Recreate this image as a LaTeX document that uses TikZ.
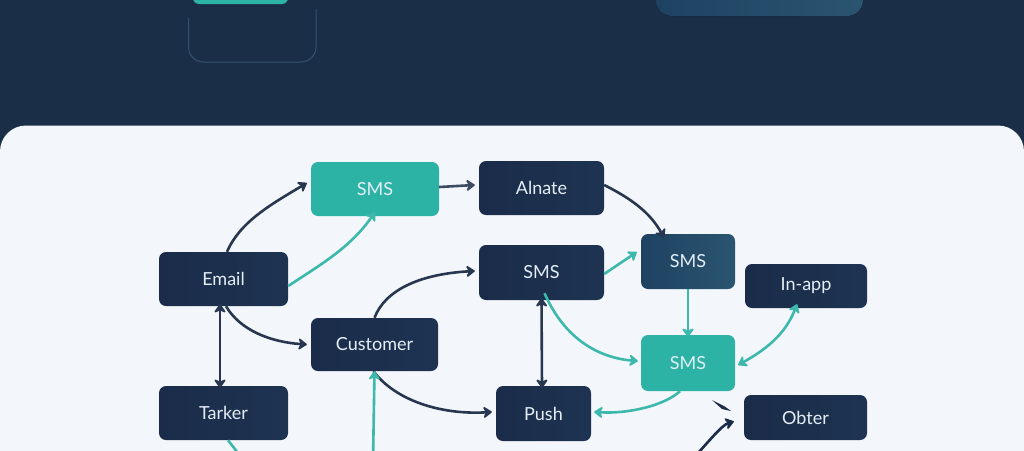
\documentclass[tikz,border=0pt]{standalone}
\usepackage{fontspec}
\setmainfont{Lato}
\usetikzlibrary{arrows.meta,shadings}
\definecolor{bgnavy}{HTML}{1B2E47}
\definecolor{panel}{HTML}{F3F6FA}
\definecolor{boxnavy}{HTML}{1A2C49}
\definecolor{boxnavyb}{HTML}{1E3352}
\definecolor{tealc}{HTML}{2DB3A6}
\definecolor{tealline}{HTML}{3DB8AC}
\definecolor{darkline}{HTML}{26374F}
\definecolor{midblueA}{HTML}{1F4262}
\definecolor{midblueB}{HTML}{2A5570}
\definecolor{labelc}{HTML}{E4EEF6}
\definecolor{ghost}{HTML}{325470}
\tikzset{
  x=1pt,y=-1pt,
  card/.style={rounded corners=7pt,text=labelc,font=\fontsize{18}{20}\selectfont,inner sep=0pt,anchor=center},
  navybox/.style={card,left color=boxnavy,right color=boxnavyb},
  tealbox/.style={card,fill=tealc},
  bluebox/.style={card,left color=midblueA,right color=midblueB},
  tip/.style={-{Stealth[inset=3.2pt,length=10pt,width=14pt,round]}},
  dbl/.style={{Stealth[inset=3.2pt,length=10pt,width=14pt,round]}-{Stealth[inset=3.2pt,length=10pt,width=14pt,round]}},
  flow/.style={line width=2.6pt,draw=darkline},
  tflow/.style={line width=2.6pt,draw=tealline},
}
\begin{document}
\begin{tikzpicture}
\useasboundingbox (0,0) rectangle (1024,450);
\fill[bgnavy] (0,0) rectangle (1024,450);
% cropped shapes at the top
\fill[tealc,rounded corners=6pt] (193,-12) rectangle (288,4);
\fill[left color=midblueA,right color=midblueB,rounded corners=16pt] (656,-30) rectangle (863,16);
\draw[ghost,line width=1pt,rounded corners=15pt] (188.5,18) -- (188.5,62) -- (316,62) -- (316,9);
% panel
\begin{scope}
\clip (0,0) rectangle (1024,450);
\fill[panel,rounded corners=26pt] (0,125.5) rectangle (1024,490);
\end{scope}
% nodes
\node[tealbox,minimum width=128pt,minimum height=54pt] (smsa) at (375,189) {SMS};
\node[navybox,minimum width=125pt,minimum height=54pt] (alnate) at (541.5,188) {Alnate};
\node[navybox,minimum width=129pt,minimum height=54pt] (email) at (223.5,279) {Email};
\node[navybox,minimum width=125pt,minimum height=55pt] (smsb) at (541.5,272.5) {SMS};
\node[bluebox,minimum width=94pt,minimum height=55pt] (smsc) at (688,261.5) {SMS};
\node[navybox,minimum width=122pt,minimum height=44pt] (inapp) at (806,286) {In-app};
\node[navybox,minimum width=127pt,minimum height=53pt] (customer) at (374.5,344.5) {Customer};
\node[tealbox,minimum width=94pt,minimum height=56pt] (smsd) at (688,363) {SMS};
\node[navybox,minimum width=129pt,minimum height=54pt] (tarker) at (223.5,413) {Tarker};
\node[navybox,minimum width=95pt,minimum height=55pt] (push) at (543.5,413.5) {Push};
\node[navybox,minimum width=123pt,minimum height=45pt] (obter) at (805.5,417.5) {Obter};
\coordinate (offa) at (373,462);
\coordinate (offb) at (245,462);
\coordinate (offc) at (690,462);
% connectors
\draw[flow,tip] ([xshift=3.5pt]email.north) .. controls (240,222) and (270,205) .. ([xshift=-4pt,yshift=6pt]smsa.west);
\draw[tflow,tip] ([yshift=-7pt]email.east) .. controls (320,265) and (350,248) .. ([yshift=4pt]smsa.south);
\draw[flow,tip,draw=darkline!90!white] ([yshift=2pt]smsa.east) -- ([xshift=-4pt,yshift=3pt]alnate.west);
\draw[flow,tip] ([yshift=3pt]alnate.east) .. controls (630,198) and (650,212) .. ([xshift=-24pt,yshift=-4pt]smsc.north);
\draw[flow,tip] ([xshift=2.5pt]email.south) .. controls (240,330) and (270,342) .. ([xshift=-4pt]customer.west);
\draw[flow,dbl] ([xshift=-3.5pt,yshift=2pt]email.south) -- ([xshift=-3.5pt,yshift=-2pt]tarker.north);
\draw[flow,tip] (customer.north) .. controls (385,290) and (420,274) .. ([xshift=-4pt,yshift=1.5pt]smsb.west);
\draw[tflow,tip] ([yshift=-1.5pt]smsb.east) -- ([xshift=-4pt,yshift=9.5pt]smsc.west);
\draw[tflow,tip] (smsc.south) -- ([yshift=-2pt]smsd.north);
\draw[flow,dbl] ([yshift=2pt]smsb.south) -- ([yshift=-2pt,xshift=-1.5pt]push.north);
\draw[tflow,tip] ([xshift=3pt,yshift=7pt]smsb.south) .. controls (565,340) and (600,358) .. ([xshift=-3pt,yshift=2pt]smsd.west);
\draw[tflow,dbl] ([xshift=3pt,yshift=-2pt]smsd.east) .. controls (765,350) and (785,335) .. ([xshift=-9pt,yshift=4pt]inapp.south);
\draw[tflow,tip] ([xshift=-8pt]smsd.south) .. controls (665,405) and (630,414) .. ([xshift=3pt,yshift=1.5pt]push.east);
\draw[flow,tip] ([xshift=-1pt]customer.south) .. controls (395,400) and (440,415) .. ([xshift=-4pt,yshift=1.5pt]push.west);
\draw[tflow,dbl] (customer.south) -- (offa);
\draw[tflow] ([xshift=4.5pt]tarker.south) -- (offb);
\draw[flow,tip,draw=boxnavy] (offc) .. controls (710,440) and (722,425) .. ([xshift=-10pt,yshift=-4pt]obter.west);
\fill[boxnavy] (712,400) -- (724,406) -- (731,411) -- (722,409) -- cycle;
\end{tikzpicture}
\end{document}
